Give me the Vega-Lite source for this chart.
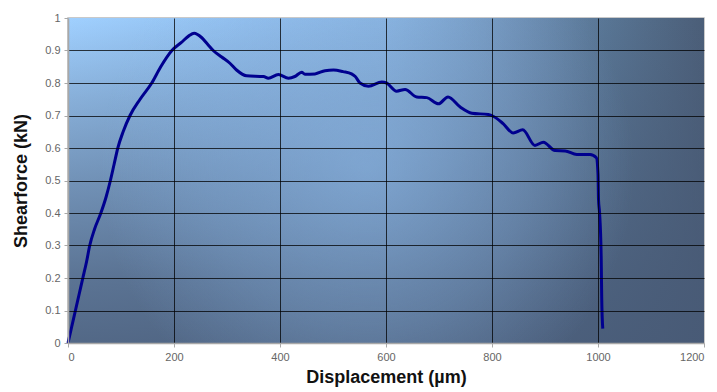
{
  "$schema": "https://vega.github.io/schema/vega-lite/v6.json",
  "width": 636,
  "height": 325,
  "autosize": "none",
  "padding": {"left": 68, "top": 18, "right": 13, "bottom": 49},
  "background": "white",
  "config": {
    "view": {"stroke": "#b8b8b8", "strokeWidth": 1.5, "fill": "#45566e"},
    "font": "Liberation Sans",
    "axis": {
      "titleFont": "Liberation Sans", "titleFontSize": 18, "titleFontWeight": "bold", "titleColor": "#111",
      "labelFont": "Liberation Sans", "labelFontSize": 11, "labelColor": "#666", "labelPadding": 4,
      "domainColor": "#a8a8a8", "domainWidth": 1.5,
      "tickColor": "#a8a8a8", "tickSize": 4,
      "grid": true, "gridWidth": 1, "gridOpacity": 0.75
    },
    "axisX": {"titlePadding": 6},
    "axisY": {"titlePadding": 14}
  },
  "datasets": {
    "curve": [
      {"d": 0, "f": 0}, {"d": 7, "f": 0.05}, {"d": 14, "f": 0.1}, {"d": 21, "f": 0.15},
      {"d": 28, "f": 0.2}, {"d": 35, "f": 0.25}, {"d": 41, "f": 0.3}, {"d": 50, "f": 0.35},
      {"d": 62, "f": 0.4}, {"d": 72, "f": 0.45}, {"d": 80, "f": 0.5}, {"d": 87, "f": 0.55},
      {"d": 94, "f": 0.6}, {"d": 104, "f": 0.65}, {"d": 117, "f": 0.7}, {"d": 136, "f": 0.75},
      {"d": 158, "f": 0.8}, {"d": 175, "f": 0.85}, {"d": 196, "f": 0.9}, {"d": 214, "f": 0.925},
      {"d": 228, "f": 0.945}, {"d": 238, "f": 0.953}, {"d": 252, "f": 0.94}, {"d": 263, "f": 0.92},
      {"d": 274, "f": 0.9}, {"d": 290, "f": 0.88}, {"d": 306, "f": 0.86}, {"d": 318, "f": 0.84},
      {"d": 337, "f": 0.822}, {"d": 369, "f": 0.82}, {"d": 378, "f": 0.815}, {"d": 397, "f": 0.826},
      {"d": 416, "f": 0.815}, {"d": 428, "f": 0.82}, {"d": 441, "f": 0.833}, {"d": 447, "f": 0.827},
      {"d": 466, "f": 0.828}, {"d": 485, "f": 0.838}, {"d": 501, "f": 0.84}, {"d": 519, "f": 0.835},
      {"d": 535, "f": 0.828}, {"d": 542, "f": 0.82}, {"d": 551, "f": 0.8}, {"d": 567, "f": 0.79},
      {"d": 592, "f": 0.803}, {"d": 601, "f": 0.8}, {"d": 620, "f": 0.775}, {"d": 636, "f": 0.78},
      {"d": 658, "f": 0.757}, {"d": 677, "f": 0.755}, {"d": 699, "f": 0.736}, {"d": 717, "f": 0.757},
      {"d": 740, "f": 0.726}, {"d": 762, "f": 0.707}, {"d": 793, "f": 0.703}, {"d": 803, "f": 0.697},
      {"d": 821, "f": 0.675}, {"d": 840, "f": 0.646}, {"d": 858, "f": 0.656}, {"d": 881, "f": 0.608},
      {"d": 897, "f": 0.618}, {"d": 919, "f": 0.592}, {"d": 938, "f": 0.591}, {"d": 960, "f": 0.58},
      {"d": 985, "f": 0.58}, {"d": 997, "f": 0.57}, {"d": 1000, "f": 0.52}, {"d": 1001, "f": 0.44},
      {"d": 1003, "f": 0.4}, {"d": 1006, "f": 0.265}, {"d": 1007, "f": 0.141}, {"d": 1009, "f": 0.044}
    ]
  },
  "layer": [
    {
      "data": {"values": [{"shade": "horizontal"}]},
      "mark": {
        "type": "rect",
        "fill": {
          "gradient": "linear", "x1": 0, "y1": 0, "x2": 1, "y2": 0,
          "stops": [
            {"offset": 0, "color": "#a0d0ff"},
            {"offset": 0.25, "color": "#93c1f0"},
            {"offset": 0.5, "color": "#86b0dc"},
            {"offset": 0.7, "color": "#6c8db2"},
            {"offset": 0.85, "color": "#587594"},
            {"offset": 1, "color": "#4b5e78"}
          ]
        }
      },
      "encoding": {
        "x": {"datum": 0, "type": "quantitative", "scale": {"domain": [0, 1200], "nice": false},
              "axis": {"zindex": 1, "values": [0, 200, 400, 600, 800, 1000, 1200], "format": "d", "title": "Displacement (µm)",
                       "gridColor": {"condition": {"test": "datum.value == 1200 || datum.value == 0", "value": "transparent"}, "value": "#000000"}}},
        "x2": {"datum": 1200},
        "y": {"datum": 1, "type": "quantitative", "scale": {"domain": [0, 1], "nice": false},
              "axis": {"zindex": 1, "values": [0, 0.1, 0.2, 0.3, 0.4, 0.5, 0.6, 0.7, 0.8, 0.9, 1], "format": ".1~f", "title": "Shearforce (kN)",
                       "gridColor": {"condition": {"test": "datum.value == 1 || datum.value == 0", "value": "transparent"}, "value": "#000000"}}},
        "y2": {"datum": 0}
      }
    },
    {
      "data": {"values": [{"shade": "vertical"}]},
      "mark": {
        "type": "rect",
        "fill": {
          "gradient": "linear", "x1": 0, "y1": 0, "x2": 0, "y2": 1,
          "stops": [
            {"offset": 0, "color": "rgba(72,90,118,0)"},
            {"offset": 0.25, "color": "rgba(72,90,118,0.28)"},
            {"offset": 0.5, "color": "rgba(72,90,118,0.52)"},
            {"offset": 0.8, "color": "rgba(72,90,118,0.78)"},
            {"offset": 1, "color": "rgba(72,90,118,0.88)"}
          ]
        }
      },
      "encoding": {
        "x": {"datum": 0, "type": "quantitative",
              "axis": {"zindex": 1, "values": [0, 200, 400, 600, 800, 1000, 1200], "format": "d", "title": "Displacement (µm)",
                       "gridColor": {"condition": {"test": "datum.value == 1200 || datum.value == 0", "value": "transparent"}, "value": "#000000"}}},
        "x2": {"datum": 1200},
        "y": {"datum": 1, "type": "quantitative",
              "axis": {"zindex": 1, "values": [0, 0.1, 0.2, 0.3, 0.4, 0.5, 0.6, 0.7, 0.8, 0.9, 1], "format": ".1~f", "title": "Shearforce (kN)",
                       "gridColor": {"condition": {"test": "datum.value == 1 || datum.value == 0", "value": "transparent"}, "value": "#000000"}}},
        "y2": {"datum": 0}
      }
    },
    {
      "data": {"values": [{"shade": "glow"}]},
      "mark": {
        "type": "rect",
        "fill": {
          "gradient": "radial",
          "x1": 0.47, "y1": 0.48, "r1": 0,
          "x2": 0.47, "y2": 0.48, "r2": 0.42,
          "stops": [
            {"offset": 0, "color": "rgba(140,184,232,0.6)"},
            {"offset": 0.6, "color": "rgba(140,184,232,0.28)"},
            {"offset": 1, "color": "rgba(140,184,232,0)"}
          ]
        }
      },
      "encoding": {
        "x": {"datum": 0, "type": "quantitative",
              "axis": {"zindex": 1, "values": [0, 200, 400, 600, 800, 1000, 1200], "format": "d", "title": "Displacement (µm)",
                       "gridColor": {"condition": {"test": "datum.value == 1200 || datum.value == 0", "value": "transparent"}, "value": "#000000"}}},
        "x2": {"datum": 1200},
        "y": {"datum": 1, "type": "quantitative",
              "axis": {"zindex": 1, "values": [0, 0.1, 0.2, 0.3, 0.4, 0.5, 0.6, 0.7, 0.8, 0.9, 1], "format": ".1~f", "title": "Shearforce (kN)",
                       "gridColor": {"condition": {"test": "datum.value == 1 || datum.value == 0", "value": "transparent"}, "value": "#000000"}}},
        "y2": {"datum": 0}
      }
    },
    {
      "data": {"name": "curve"},
      "mark": {"type": "line", "color": "#00008f", "strokeWidth": 3, "interpolate": "monotone"},
      "encoding": {
        "x": {"field": "d", "type": "quantitative",
              "axis": {"zindex": 1, "values": [0, 200, 400, 600, 800, 1000, 1200], "format": "d", "title": "Displacement (µm)",
                       "gridColor": {"condition": {"test": "datum.value == 1200 || datum.value == 0", "value": "transparent"}, "value": "#000000"}}},
        "y": {"field": "f", "type": "quantitative",
              "axis": {"zindex": 1, "values": [0, 0.1, 0.2, 0.3, 0.4, 0.5, 0.6, 0.7, 0.8, 0.9, 1], "format": ".1~f", "title": "Shearforce (kN)",
                       "gridColor": {"condition": {"test": "datum.value == 1 || datum.value == 0", "value": "transparent"}, "value": "#000000"}}}
      }
    }
  ]
}
